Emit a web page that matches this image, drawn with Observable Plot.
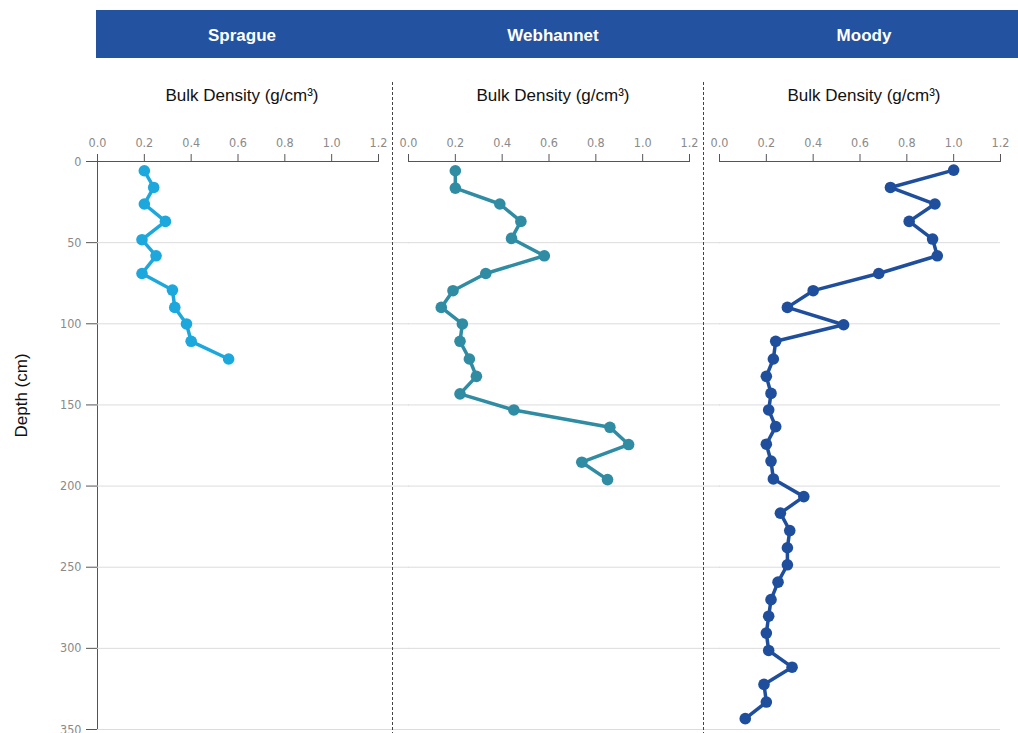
<!DOCTYPE html>
<html><head><meta charset="utf-8">
<script src="https://cdn.jsdelivr.net/npm/d3@7"></script>
<script src="https://cdn.jsdelivr.net/npm/@observablehq/plot@0.6"></script>
<style>
body{margin:0;background:#fff;font-family:"Liberation Sans",Arial,sans-serif;}
#wrap{position:relative;width:1018px;height:733px;overflow:hidden;}
#bar{position:absolute;left:96px;top:10px;width:922px;height:48px;background:#2252a0;}
#chart{position:absolute;left:0;top:0;}
g[aria-label="x-axis tick label"] text, g[aria-label="y-axis tick label"] text{
  fill:#8a8a8a; font-family:"Liberation Sans Narrow","DejaVu Sans Condensed","Liberation Sans",sans-serif;
}
g[aria-label="x-axis tick label"], g[aria-label="y-axis tick label"]{font-size:12.5px;}
</style></head><body>
<div id="wrap"><div id="bar"></div><div id="chart"></div></div>
<script>
const sites = ["Sprague","Webhannet","Moody"];
const siteColors = ["#1ca8dc","#2f8ca3","#1f4f9c"];
const xTicks = [0,0.2,0.4,0.6,0.8,1.0,1.2];
const depthTicks = [0,50,100,150,200,250,300,350];
const xTitle = "Bulk Density (g/cm³)";
const yTitle = "Depth (cm)";

const spragueDepth = [5.7,16,26.2,36.9,48.2,58.1,69,79.2,89.9,100.1,110.8,121.7];
const spragueDensity = [0.20,0.24,0.20,0.29,0.19,0.25,0.19,0.32,0.33,0.38,0.40,0.56];

const webhannetDepth = [5.7,16.4,26.2,36.9,47.4,58.1,69,79.6,89.9,100.1,110.8,121.7,132.4,143.2,153.1,163.8,174.4,185.3,196];
const webhannetDensity = [0.20,0.20,0.39,0.48,0.44,0.58,0.33,0.19,0.14,0.23,0.22,0.26,0.29,0.22,0.45,0.86,0.94,0.74,0.85];

const moodyDepth = [5.3,16,26.2,36.9,47.8,58.1,69,79.6,89.9,100.6,110.8,121.7,132.4,142.9,153.1,163.4,174.2,184.6,195.6,206.5,216.7,227.4,238,248.5,259.2,270,280.2,290.6,301.3,311.6,322.2,333.1,343.3];
const moodyDensity = [1.00,0.73,0.92,0.81,0.91,0.93,0.68,0.40,0.29,0.53,0.24,0.23,0.20,0.22,0.21,0.24,0.20,0.22,0.23,0.36,0.26,0.30,0.29,0.29,0.25,0.22,0.21,0.20,0.21,0.31,0.19,0.20,0.11];

const depths = [spragueDepth, webhannetDepth, moodyDepth];
const densities = [spragueDensity, webhannetDensity, moodyDensity];
const rows = [];
sites.forEach((s,i)=>depths[i].forEach((d,j)=>rows.push({site:s, depth:d, density:densities[i][j]})));
const gridRows = sites.flatMap(s => depthTicks.slice(1).map(v => ({site:s, depth:v})));

const chart = Plot.plot({
  width:1018, height:733,
  marginLeft:96, marginRight:18, marginTop:161, marginBottom:4,
  style:{background:"transparent", fontFamily:"'Liberation Sans', Arial, sans-serif", color:"#555", overflow:"visible"},
  fx:{domain:sites, paddingInner:0.098, paddingOuter:0, axis:null, label:null},
  x:{domain:[0,1.2], axis:"top", ticks:xTicks, tickFormat:d3.format(".1f"), tickSize:8, tickPadding:7, line:true, label:null},
  y:{domain:[0,350], reverse:true, ticks:depthTicks, tickSize:11, tickPadding:5, line:true, label:null},
  color:{domain:sites, range:siteColors},
  marks:[
    Plot.ruleY(gridRows.filter(r=>r.site!=="Moody"), {fx:"site", y:"depth", stroke:"#dcdcdc", insetRight:-31}),
    Plot.ruleY(gridRows.filter(r=>r.site==="Moody"), {fx:"site", y:"depth", stroke:"#dcdcdc"}),
    Plot.ruleX(sites.slice(0,2).map(s=>({site:s})), {fx:"site", x:()=>1.2, dx:14, insetTop:-79, insetBottom:-10, stroke:"#444", strokeDasharray:"3,2"}),
    Plot.line(rows, {fx:"site", x:"density", y:"depth", stroke:"site", strokeWidth:3.5}),
    Plot.dot(rows, {fx:"site", x:"density", y:"depth", fill:"site", r:5.8}),
    Plot.text(sites, {fx:d=>d, text:d=>d, frameAnchor:"top", lineAnchor:"middle", dy:-126, dx:4, fill:"white", fontSize:17, fontWeight:"bold"}),
    Plot.text(sites, {fx:d=>d, text:()=>xTitle, frameAnchor:"top", lineAnchor:"middle", dy:-66, dx:4, fill:"#111", fontSize:17}),
    Plot.text([yTitle], {fx:()=>"Sprague", text:d=>d, frameAnchor:"left", textAnchor:"middle", lineAnchor:"middle", rotate:-90, dx:-76, dy:-50, fontSize:17, fill:"#111"})
  ]
});
document.getElementById("chart").appendChild(chart);
</script>
</body></html>
